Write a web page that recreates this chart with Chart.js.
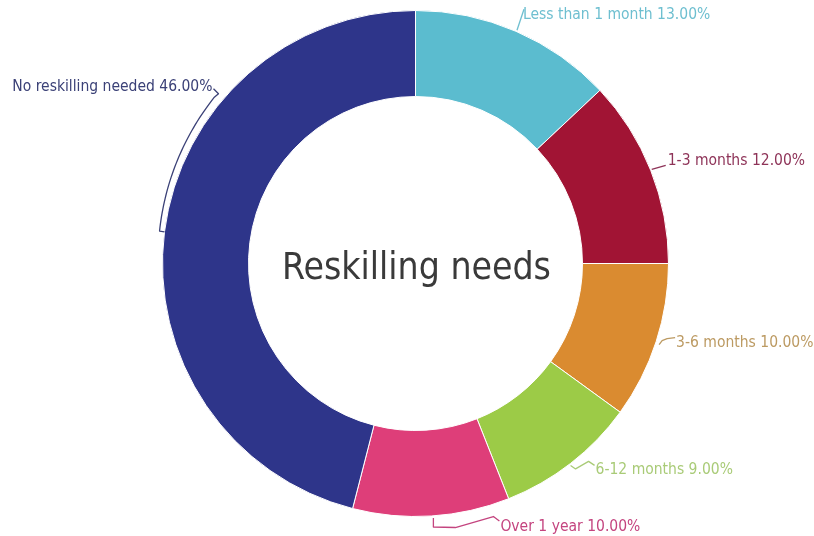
<!DOCTYPE html>
<html lang="en">
<head>
    <meta charset="UTF-8">
    <title>Reskilling needs</title>
    <script src="https://cdn.jsdelivr.net/npm/chart.js"></script>
    <style>
        body { margin: 0; background: #fff; }
        #wrap { width: 814px; height: 536px; }
    </style>
</head>
<body>
<div id="wrap"><canvas id="reskilling-chart" width="814" height="536"></canvas></div>
<script>
    // --- data ---
    const categories = ['Less than 1 month', '1-3 months', '3-6 months', '6-12 months', 'Over 1 year', 'No reskilling needed'];
    const shares = [13, 12, 10, 9, 10, 46];
    const sliceColors = ['#5BBCCF', '#A11434', '#DA8B30', '#9CCB47', '#DE3E79', '#2E358A'];
    const labelColors = ['#6EBFD0', '#8E3358', '#BC9A62', '#A9CB77', '#C4447F', '#3B4177'];
    const centerTitle = 'Reskilling needs';

    // leader lines + text placement, relative to the middle of each slice's outer edge
    const labelStyles = [
        { path: [[1, -1], [8, -22]], text: [7, -12], align: 'left' },
        { path: [[1, -1], [15, -5]], text: [17, -5], align: 'left' },
        { path: [[3, 3], [6, -1], [11, -3], [19, -4]], text: [20, 5.5], align: 'left' },
        { path: [[0, 2], [5, 5.5], [18, -2], [24, 2]], text: [25, 10.5], align: 'left' },
        { path: [[2, 2], [2, 11], [24, 11.5], [62, 0.5], [68, 5]], text: [69, 14.5], align: 'left' },
        { brace: true, text: [48, -141], align: 'right' }
    ];

    const sliceLabels = {
        id: 'sliceLabels',
        afterDraw(chart) {
            const ctx = chart.ctx;
            const arcs = chart.getDatasetMeta(0).data;
            ctx.save();
            ctx.lineWidth = 1.3;
            ctx.lineJoin = 'round';
            arcs.forEach((arc, i) => {
                const p = arc.getProps(['x', 'y', 'startAngle', 'endAngle', 'outerRadius'], true);
                const mid = (p.startAngle + p.endAngle) / 2;
                const ex = p.x + p.outerRadius * Math.cos(mid);
                const ey = p.y + p.outerRadius * Math.sin(mid);
                const st = labelStyles[i];
                ctx.strokeStyle = labelColors[i];
                ctx.beginPath();
                if (st.brace) {
                    // short tick, then follow the outer edge, then hook to the label
                    ctx.moveTo(ex, ey);
                    const a1 = p.endAngle - 0.88;
                    const steps = 40;
                    for (let k = 0; k <= steps; k++) {
                        const a = mid + (a1 - mid) * k / steps;
                        const r = p.outerRadius + 5 + 3 * k / steps;
                        ctx.lineTo(p.x + r * Math.cos(a), p.y + r * Math.sin(a));
                    }
                    ctx.lineTo(ex + 54, ey - 138);
                    ctx.lineTo(ex + 49, ey - 143);
                } else {
                    ctx.moveTo(ex + st.path[0][0], ey + st.path[0][1]);
                    for (let k = 1; k < st.path.length; k++) {
                        ctx.lineTo(ex + st.path[k][0], ey + st.path[k][1]);
                    }
                }
                ctx.stroke();

                ctx.fillStyle = labelColors[i];
                ctx.font = '15.5px "DejaVu Sans Condensed", "DejaVu Sans", sans-serif';
                ctx.textAlign = st.align;
                ctx.textBaseline = 'alphabetic';
                ctx.fillText(categories[i] + ' ' + shares[i].toFixed(2) + '%', ex + st.text[0], ey + st.text[1]);
            });

            // title in the hole
            const c = arcs[0];
            ctx.fillStyle = '#3a3a3a';
            ctx.font = '37px "DejaVu Sans Condensed", "DejaVu Sans", sans-serif';
            ctx.textAlign = 'center';
            ctx.fillText(centerTitle, c.x + 1, c.y + 15);
            ctx.restore();
        }
    };

    new Chart(document.getElementById('reskilling-chart'), {
        type: 'doughnut',
        data: {
            labels: categories,
            datasets: [{
                data: shares,
                backgroundColor: sliceColors,
                borderColor: '#ffffff',
                borderWidth: 1,
                hoverOffset: 0
            }]
        },
        options: {
            responsive: false,
            animation: false,
            cutout: '66%',
            layout: { padding: { left: 162, right: 145, top: 10, bottom: 19 } },
            plugins: { legend: { display: false }, tooltip: { enabled: false } }
        },
        plugins: [sliceLabels]
    });
</script>
</body>
</html>
